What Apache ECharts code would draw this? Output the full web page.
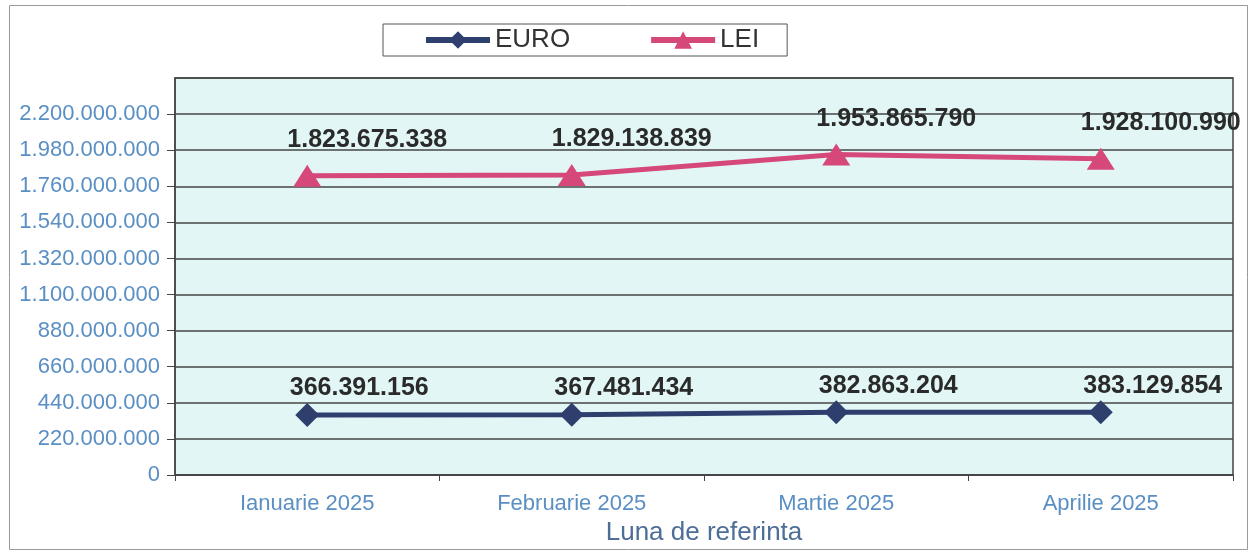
<!DOCTYPE html>
<html>
<head>
<meta charset="utf-8">
<script src="https://cdn.jsdelivr.net/npm/echarts@6/dist/echarts.min.js"></script>
<style>
html,body{margin:0;padding:0;background:#fff;}
#c{width:1250px;height:551px;}
</style>
</head>
<body>
<div id="c"></div>
<script>
const categories = ['Ianuarie 2025', 'Februarie 2025', 'Martie 2025', 'Aprilie 2025'];
const euroValues = [366391156, 367481434, 382863204, 383129854];
const leiValues = [1823675338, 1829138839, 1953865790, 1928100990];
const seriesNames = ['EURO', 'LEI'];
const axisTitle = 'Luna de referinta';
const yMin = 0;
const yMax = 2420000000;
const yInterval = 220000000;

const fmt = v => String(Math.round(v)).replace(/\B(?=(\d{3})+(?!\d))/g, '.');
const FONT = '"Liberation Sans", Arial, sans-serif';

const chart = echarts.init(document.getElementById('c'), null, {renderer: 'canvas'});
chart.setOption({
  backgroundColor: '#ffffff',
  animation: false,
  graphic: [{
    type: 'rect', left: 7, top: 3,
    shape: {width: 1238, height: 544},
    style: {fill: 'none', stroke: '#9a9a9a', lineWidth: 1},
    z: -1
  }],
  legend: {
    left: 383, top: 24,
    padding: [3, 28, 3, 40],
    itemGap: 78,
    itemWidth: 64, itemHeight: 22,
    borderColor: '#555', borderWidth: 1,
    lineStyle: {width: 6},
    textStyle: {fontFamily: FONT, fontSize: 26, color: '#333'},
    data: seriesNames
  },
  grid: {
    left: 175, right: 17, top: 78, bottom: 76,
    show: true, backgroundColor: '#e1f6f5', borderColor: '#444', borderWidth: 1.5
  },
  xAxis: {
    type: 'category',
    data: categories,
    boundaryGap: true,
    name: axisTitle,
    nameLocation: 'middle',
    nameGap: 44,
    nameTextStyle: {fontFamily: FONT, fontSize: 26, color: '#4d6e96'},
    axisLine: {lineStyle: {color: '#444', width: 1.5}},
    axisTick: {show: true, length: 6, lineStyle: {color: '#444'}},
    axisLabel: {fontFamily: FONT, fontSize: 22, color: '#5a8fc4', margin: 18}
  },
  yAxis: {
    type: 'value',
    min: yMin, max: yMax, interval: yInterval,
    axisLine: {show: true, lineStyle: {color: '#444', width: 1.5}},
    axisTick: {show: true, length: 8, lineStyle: {color: '#444'}},
    axisLabel: {
      fontFamily: FONT, fontSize: 22, color: '#5a8fc4', margin: 15,
      showMaxLabel: false,
      formatter: v => fmt(v)
    },
    splitLine: {lineStyle: {color: '#444', width: 1.5}}
  },
  series: [{
    name: seriesNames[0],
    type: 'line',
    data: euroValues,
    symbol: 'diamond',
    symbolSize: 24,
    color: '#2e3f6e',
    lineStyle: {width: 5, color: '#2e3f6e'},
    itemStyle: {color: '#2e3f6e'},
    label: {
      show: true, position: 'top', distance: 2, offset: [52, 0],
      fontFamily: FONT, fontSize: 25, fontWeight: 'bold', color: '#2a2a2a',
      letterSpacing: 1.5,
      formatter: p => fmt(p.value)
    }
  }, {
    name: seriesNames[1],
    type: 'line',
    data: leiValues,
    symbol: 'triangle',
    symbolSize: [28, 22],
    color: '#d6477a',
    lineStyle: {width: 5, color: '#d6477a'},
    itemStyle: {color: '#d6477a'},
    label: {
      show: true, position: 'top', distance: 12, offset: [60, 0],
      fontFamily: FONT, fontSize: 25, fontWeight: 'bold', color: '#2a2a2a',
      letterSpacing: 1.5,
      formatter: p => fmt(p.value)
    }
  }]
});
</script>
</body>
</html>
